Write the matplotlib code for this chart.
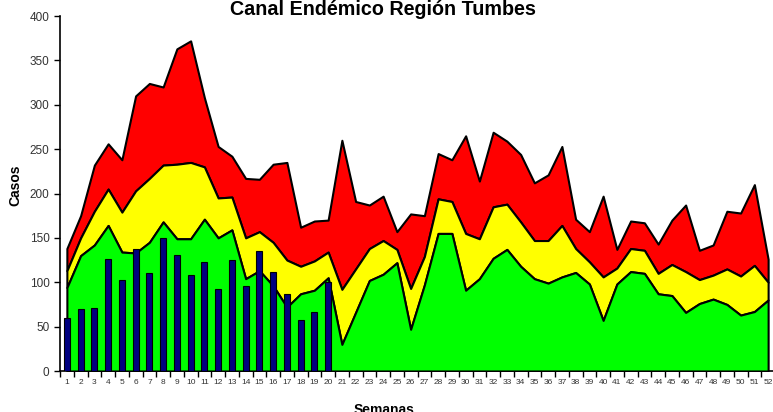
import numpy as np
import matplotlib.pyplot as plt

plt.rcParams['font.family'] = ['Liberation Sans', 'DejaVu Sans']

semanas = np.arange(1, 53)

# limites del canal endemico (valores acumulados)
zona_exito = [94, 130, 142, 164, 134, 133, 145, 168, 149, 149, 171, 150, 159,
              104, 113, 96, 72, 87, 91, 105, 30, 66, 102, 109, 122, 47, 97,
              155, 155, 91, 104, 127, 137, 118, 104, 99, 106, 111, 98, 57, 98,
              112, 110, 87, 85, 66, 76, 81, 75, 63, 67, 80]
zona_seguridad = [113, 150, 180, 205, 179, 203, 217, 232, 233, 235, 230, 195,
                  196, 150, 157, 145, 125, 118, 124, 134, 92, 115, 138, 147,
                  137, 93, 129, 194, 191, 155, 149, 185, 188, 168, 147, 147,
                  164, 138, 123, 106, 116, 138, 136, 110, 120, 112, 103, 108,
                  115, 107, 119, 100]
zona_alarma = [138, 175, 232, 256, 238, 310, 324, 320, 363, 372, 308, 253, 242,
               217, 216, 233, 235, 162, 169, 170, 260, 191, 187, 197, 157, 177,
               175, 245, 238, 265, 214, 269, 259, 244, 212, 221, 253, 171, 157,
               197, 137, 169, 167, 143, 170, 187, 136, 142, 180, 178, 210, 126]

# casos observados (semanas 1-20)
semanas_casos = np.arange(1, 21)
casos = [60, 70, 71, 126, 103, 138, 110, 150, 131, 108, 123, 92, 125, 96, 135,
         111, 87, 58, 67, 100]

fig = plt.figure(figsize=(7.73, 4.12), dpi=100)
ax = fig.add_axes([60 / 773, 41 / 412, 715 / 773, 355 / 412])

ax.fill_between(semanas, zona_seguridad, zona_alarma, facecolor='#FF0000',
                edgecolor='black', linewidth=1.5, zorder=1)
ax.fill_between(semanas, zona_exito, zona_seguridad, facecolor='#FFFF00',
                edgecolor='black', linewidth=1.5, zorder=2)
ax.fill_between(semanas, 0, zona_exito, facecolor='#00FF00',
                edgecolor='black', linewidth=1.5, zorder=3)
ax.bar(semanas_casos, casos, width=0.45, color='#000080', edgecolor='black',
       linewidth=0.8, zorder=4)

ax.set_xlim(0.5, 52.5)
ax.set_ylim(0, 400)
ax.set_yticks(np.arange(0, 401, 50))
ax.set_xticks(np.arange(0.5, 53, 1))
ax.set_xticklabels([])
ax.set_xticks(semanas, minor=True)
ax.set_xticklabels([str(s) for s in semanas], minor=True)
ax.tick_params(axis='x', which='major', length=4, width=1, direction='out')
ax.tick_params(axis='x', which='minor', length=0, labelsize=6, pad=6,
               labelcolor='#333333')
ax.tick_params(axis='y', length=4, width=1, direction='out', labelsize=8.5,
               labelcolor='#333333')
for s in ['top', 'right']:
    ax.spines[s].set_visible(False)
for s in ['left', 'bottom']:
    ax.spines[s].set_linewidth(1.2)

fig.text(383 / 773, 1 - 15 / 412, 'Canal Endémico Región Tumbes',
         ha='center', va='baseline', fontsize=14.2, fontweight='bold')
fig.text(15 / 773, 1 - 185 / 412, 'Casos', rotation=90, ha='center',
         va='center', fontsize=10, fontweight='bold')
fig.text(384 / 773, -0.004, 'Semanas', ha='center', va='baseline',
         fontsize=10, fontweight='bold')

plt.savefig('out.png', dpi=100)
